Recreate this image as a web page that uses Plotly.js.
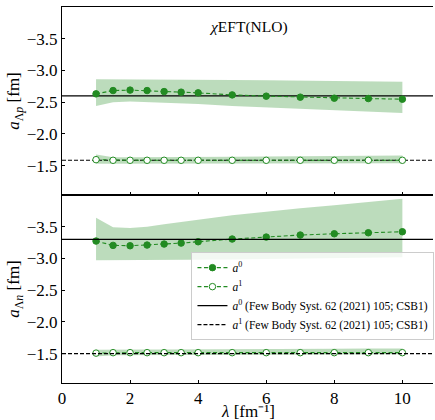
<!DOCTYPE html>
<html>
<head>
<meta charset="utf-8">
<script src="https://cdn.plot.ly/plotly-3.0.1.min.js"></script>
<style>html,body{margin:0;padding:0;background:#fff;}#chart{width:435px;height:420px;}</style>
</head>
<body>
<div id="chart"></div>
<script>
// ---- data ----
const lam = [1, 1.5, 2, 2.5, 3, 3.5, 4, 5, 6, 7, 8, 9, 10];
const xSpan = [0, 10.9];
const yTicks = [-3.5, -3.0, -2.5, -2.0, -1.5];
const xTicks = [0, 2, 4, 6, 8, 10];

// Lambda-p
const apA0   = [-2.631, -2.683, -2.690, -2.683, -2.667, -2.658, -2.647, -2.615, -2.595, -2.579, -2.563, -2.557, -2.547];
const apA0Up = [-2.86, -2.86, -2.86, -2.86, -2.86, -2.855, -2.855, -2.85, -2.845, -2.84, -2.835, -2.83, -2.82];
const apA0Dn = [-2.44, -2.50, -2.51, -2.50, -2.49, -2.48, -2.47, -2.44, -2.41, -2.39, -2.37, -2.35, -2.33];
const apA1   = [-1.594, -1.584, -1.584, -1.584, -1.584, -1.584, -1.584, -1.584, -1.584, -1.584, -1.584, -1.584, -1.584];
const apA1Up = [-1.675, -1.63, -1.63, -1.63, -1.63, -1.63, -1.635, -1.64, -1.645, -1.65, -1.655, -1.66, -1.66];
const apA1Dn = [-1.53, -1.536, -1.536, -1.536, -1.536, -1.536, -1.536, -1.536, -1.536, -1.536, -1.536, -1.536, -1.536];
const apRefA0 = -2.60;
const apRefA1 = -1.584;

// Lambda-n
const anA0   = [-3.274, -3.206, -3.200, -3.211, -3.227, -3.242, -3.263, -3.306, -3.337, -3.369, -3.389, -3.405, -3.421];
const anA0Up = [-3.64, -3.49, -3.48, -3.50, -3.54, -3.57, -3.61, -3.68, -3.74, -3.79, -3.84, -3.89, -3.94];
const anA0Dn = [-2.97, -2.97, -2.97, -2.97, -2.975, -2.98, -2.98, -2.985, -2.99, -2.995, -3.0, -3.01, -3.02];
const anA1   = [-1.508, -1.515, -1.515, -1.515, -1.515, -1.515, -1.515, -1.515, -1.515, -1.515, -1.515, -1.515, -1.515];
const anA1Up = [-1.56, -1.565, -1.565, -1.565, -1.565, -1.565, -1.565, -1.57, -1.57, -1.575, -1.575, -1.58, -1.58];
const anA1Dn = [-1.455, -1.475, -1.475, -1.475, -1.475, -1.478, -1.48, -1.482, -1.485, -1.487, -1.49, -1.49, -1.49];
const anRefA0 = -3.30;
const anRefA1 = -1.50;

const legendNames = ['<i>a</i><sup>0</sup>', '<i>a</i><sup>1</sup>',
  '<i>a</i><sup>0</sup> (Few Body Syst. 62 (2021) 105; CSB1)',
  '<i>a</i><sup>1</sup> (Few Body Syst. 62 (2021) 105; CSB1)'];

// ---- styles ----
const green = '#228B22';
const bandFill = 'rgba(34,139,34,0.3)';
const FONT = 'Liberation Serif, Times New Roman, serif';

function band(up, dn, xa, ya) {
  return {x: lam.concat(lam.slice().reverse()), y: up.concat(dn.slice().reverse()),
    xaxis: xa, yaxis: ya, mode: 'lines', fill: 'toself', fillcolor: bandFill,
    line: {width: 0, color: 'rgba(0,0,0,0)'}, hoverinfo: 'skip', showlegend: false};
}
function pts(y, filled, xa, ya, name, show) {
  return {x: lam, y: y, xaxis: xa, yaxis: ya, mode: 'lines+markers', name: name, showlegend: show,
    line: {color: green, width: 1.1, dash: '4px,2.5px'},
    marker: {size: 6.5, color: filled ? green : '#ffffff', line: {color: green, width: 1}}};
}
function ref(v, dashed, xa, ya, name, show) {
  return {x: xSpan, y: [v, v], xaxis: xa, yaxis: ya, mode: 'lines', name: name, showlegend: show,
    line: {color: '#000', width: 1.1, dash: dashed ? '4px,2px' : 'solid'}};
}

const traces = [
  band(apA0Up, apA0Dn, 'x', 'y'),
  band(apA1Up, apA1Dn, 'x', 'y'),
  band(anA0Up, anA0Dn, 'x2', 'y2'),
  band(anA1Up, anA1Dn, 'x2', 'y2'),
  ref(apRefA0, false, 'x', 'y', legendNames[2], false),
  ref(apRefA1, true, 'x', 'y', legendNames[3], false),
  pts(apA0, true, 'x', 'y', legendNames[0], false),
  pts(apA1, false, 'x', 'y', legendNames[1], false),
  pts(anA0, true, 'x2', 'y2', legendNames[0], true),
  pts(anA1, false, 'x2', 'y2', legendNames[1], true),
  ref(anRefA0, false, 'x2', 'y2', legendNames[2], true),
  ref(anRefA1, true, 'x2', 'y2', legendNames[3], true)
];

const axX = {range: xSpan.slice(), autorange: false, tickvals: xTicks, showline: true, mirror: true,
  linecolor: '#000', linewidth: 1,
  ticks: 'inside', ticklen: 3, tickcolor: '#000', showgrid: false, zeroline: false,
  tickfont: {family: FONT, size: 17, color: '#000'}};
const axY = {range: [-1.037, -4.0], autorange: false, tickvals: yTicks,
  ticktext: yTicks.map(v => '\u2212' + Math.abs(v).toFixed(1)),
  showline: true, mirror: false, linecolor: '#000', linewidth: 1,
  ticks: 'inside', ticklen: 3, tickcolor: '#000', showgrid: false, zeroline: false,
  tickfont: {family: FONT, size: 17, color: '#000'}};

const layout = {
  width: 435, height: 420,
  margin: {l: 62, r: 1, t: 7, b: 37},
  paper_bgcolor: '#fff', plot_bgcolor: '#fff',
  font: {family: FONT, color: '#000'},
  xaxis: Object.assign({}, axX, {anchor: 'y', showticklabels: false}),
  yaxis: Object.assign({}, axY, {domain: [0.5, 1], anchor: 'x',
    title: {text: '<i>a</i><sub>\u039b<i>p</i></sub> [fm]', font: {family: FONT, size: 17}, standoff: 2}}),
  xaxis2: Object.assign({}, axX, {anchor: 'y2'}),
  yaxis2: Object.assign({}, axY, {domain: [0, 0.5], anchor: 'x2',
    title: {text: '<i>a</i><sub>\u039b<i>n</i></sub> [fm]', font: {family: FONT, size: 17}, standoff: 2}}),
  annotations: [
    {text: '<i>\u03c7</i>EFT(NLO)', xref: 'x', yref: 'y', x: 4.25, y: -3.69,
     xanchor: 'left', yanchor: 'middle',
     showarrow: false, font: {family: FONT, size: 15.5, color: '#000'}},
    {text: '<i>\u03bb</i> [fm\u207b\u00b9]', xref: 'paper', yref: 'paper', x: 0.5, y: -0.104,
     xanchor: 'center', yanchor: 'bottom', borderpad: 0,
     showarrow: false, font: {family: FONT, size: 17, color: '#000'}}
  ],
  legend: {x: 0.348, y: 0.348, xanchor: 'left', yanchor: 'top',
    bgcolor: 'rgba(255,255,255,0.8)', bordercolor: '#cccccc', borderwidth: 1,
    font: {family: FONT, size: 11.5, color: '#000'}, tracegroupgap: 0, itemwidth: 30}
};

Plotly.newPlot('chart', traces, layout, {staticPlot: true, displayModeBar: false});
</script>
</body>
</html>
